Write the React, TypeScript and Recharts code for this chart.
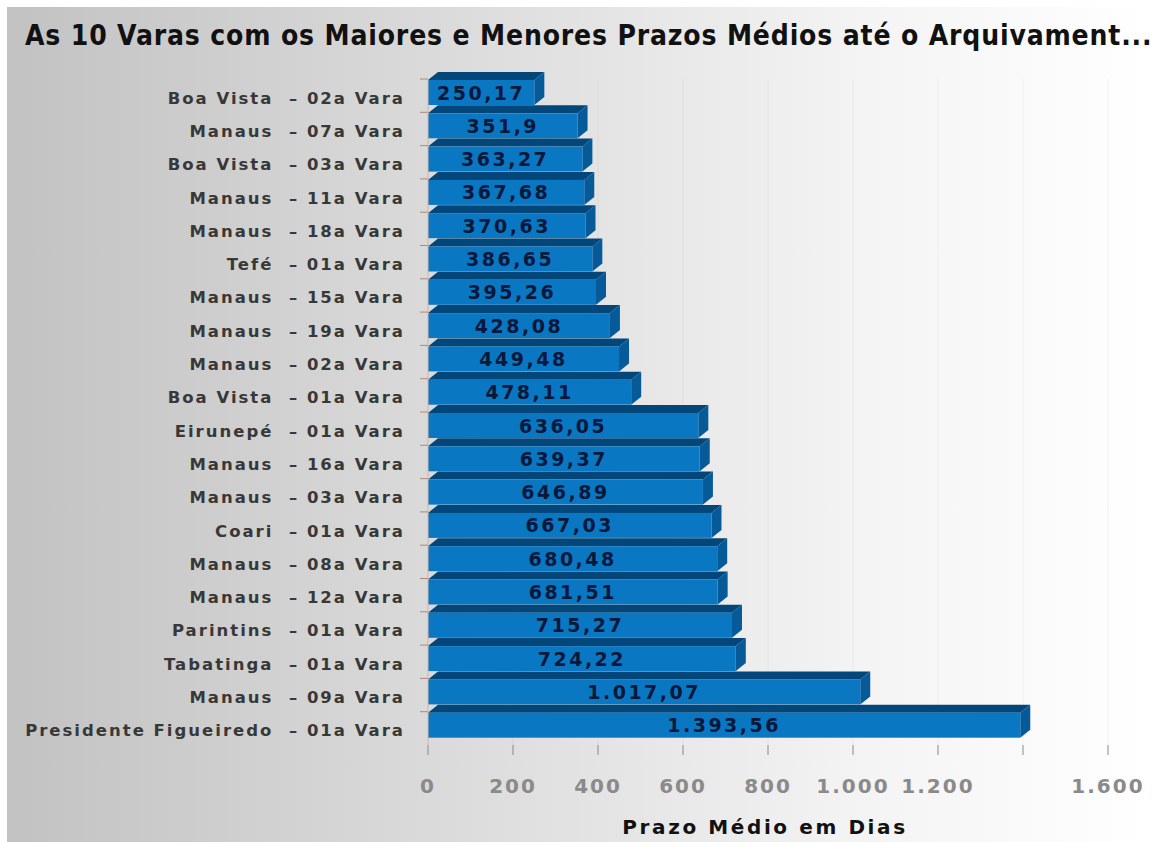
import React from "react";
import {
  BarChart,
  Bar,
  XAxis,
  YAxis,
  CartesianGrid,
  LabelList,
} from "recharts";

// Varas (top to bottom) and their average time until archiving, in days
const varas = [
  "Boa Vista  – 02a Vara",
  "Manaus  – 07a Vara",
  "Boa Vista  – 03a Vara",
  "Manaus  – 11a Vara",
  "Manaus  – 18a Vara",
  "Tefé  – 01a Vara",
  "Manaus  – 15a Vara",
  "Manaus  – 19a Vara",
  "Manaus  – 02a Vara",
  "Boa Vista  – 01a Vara",
  "Eirunepé  – 01a Vara",
  "Manaus  – 16a Vara",
  "Manaus  – 03a Vara",
  "Coari  – 01a Vara",
  "Manaus  – 08a Vara",
  "Manaus  – 12a Vara",
  "Parintins  – 01a Vara",
  "Tabatinga  – 01a Vara",
  "Manaus  – 09a Vara",
  "Presidente Figueiredo  – 01a Vara",
];

const prazos = [
  250.17, 351.9, 363.27, 367.68, 370.63, 386.65, 395.26, 428.08, 449.48,
  478.11, 636.05, 639.37, 646.89, 667.03, 680.48, 681.51, 715.27, 724.22,
  1017.07, 1393.56,
];

const xTicks = [0, 200, 400, 600, 800, 1000, 1200, 1400, 1600];
const xTickLabels = ["0", "200", "400", "600", "800", "1.000", "1.200", "", "1.600"];

const CHART_W = 1152;
const CHART_H = 835;
const MARGIN = { top: 72, right: 51, bottom: 37, left: 0 };
const Y_AXIS_W = 421;
const X_AXIS_H = 60;
const BAND = (CHART_H - MARGIN.top - MARGIN.bottom - X_AXIS_H) / varas.length;

const DX = 10; // 3d depth
const DY = 8;
const FRONT_H = 25;

const formatBR = (v: number) => {
  const [i, d] = v.toString().split(".");
  const int = i.replace(/\B(?=(\d{3})+(?!\d))/g, ".");
  return d ? `${int},${d}` : int;
};

const Bar3D = (props: any) => {
  const { x, y, width } = props;
  const top = y + 1;
  const bottom = top + FRONT_H;
  const right = x + width;
  return (
    <g>
      <polygon
        points={`${x},${top} ${x + DX},${top - DY} ${right + DX},${top - DY} ${right},${top}`}
        fill="#03467a"
      />
      <polygon
        points={`${right},${top} ${right + DX},${top - DY} ${right + DX},${bottom - DY} ${right},${bottom}`}
        fill="#065a98"
      />
      <rect x={x} y={top} width={width} height={FRONT_H} fill="#0a77c2" />
    </g>
  );
};

const ValueLabel = (props: any) => {
  const { x, y, width, value } = props;
  return (
    <text
      x={x + width / 2}
      y={y + 1 + FRONT_H / 2 + 7}
      textAnchor="middle"
      fill="#08183a"
      fontFamily="DejaVu Sans"
      fontWeight="bold"
      fontSize={19}
      letterSpacing={2.5}
    >
      {formatBR(value)}
    </text>
  );
};

const YTick = (props: any) => {
  const { x, y, payload } = props;
  const boundary = y - BAND / 2;
  return (
    <g>
      <line x1={x} x2={x + 8} y1={boundary} y2={boundary} stroke="#b08878" />
      <text
        x={x - 15}
        y={y + 8}
        textAnchor="end"
        fill="#383838"
        fontFamily="DejaVu Sans"
        fontWeight="bold"
        fontSize={16.5}
        letterSpacing={2}
        style={{ whiteSpace: "pre" }}
      >
        {payload.value}
      </text>
    </g>
  );
};

const XTick = (props: any) => {
  const { x, y, payload } = props;
  const idx = xTicks.indexOf(payload.value);
  return (
    <text
      x={x}
      y={y + 36}
      textAnchor="middle"
      fill="#8a8a8a"
      fontFamily="DejaVu Sans"
      fontWeight="bold"
      fontSize={20}
      letterSpacing={2}
    >
      {xTickLabels[idx]}
    </text>
  );
};

const App: React.FC = () => {
  const data = varas.map((name, i) => ({ name, prazo: prazos[i] }));

  return (
    <div
      style={{
        position: "absolute",
        left: 7,
        top: 7,
        width: CHART_W,
        height: CHART_H,
        background: "linear-gradient(to right, #c2c2c2 0%, #dcdcdc 40%, #f4f4f4 75%, #ffffff 100%)",
      }}
    >
      <div
        style={{
          position: "absolute",
          left: 18,
          top: 12,
          fontFamily: "DejaVu Sans Condensed",
          fontWeight: "bold",
          fontSize: 28,
          letterSpacing: 0.84,
          color: "#111",
          whiteSpace: "nowrap",
        }}
      >
        As 10 Varas com os Maiores e Menores Prazos Médios até o Arquivament...
      </div>
      <BarChart
        width={CHART_W}
        height={CHART_H}
        data={data}
        layout="vertical"
        margin={MARGIN}
        barCategoryGap={0}
      >
        <CartesianGrid horizontal={false} stroke="rgba(0,0,0,0.04)" />
        <XAxis
          type="number"
          domain={[0, 1600]}
          ticks={xTicks}
          height={X_AXIS_H}
          axisLine={false}
          tickSize={10}
          tickLine={{ stroke: "#8a8a8a" }}
          tick={<XTick />}
        />
        <YAxis
          type="category"
          dataKey="name"
          width={Y_AXIS_W}
          axisLine={{ stroke: "#dcb8a8" }}
          tickLine={false}
          tick={<YTick />}
          interval={0}
        />
        <Bar dataKey="prazo" shape={<Bar3D />} isAnimationActive={false}>
          <LabelList dataKey="prazo" content={<ValueLabel />} />
        </Bar>
      </BarChart>
      <div
        style={{
          position: "absolute",
          left: 758,
          top: 808,
          transform: "translateX(-50%)",
          fontFamily: "DejaVu Sans",
          fontWeight: "bold",
          fontSize: 20,
          letterSpacing: 2.6,
          color: "#111",
          whiteSpace: "nowrap",
        }}
      >
        Prazo Médio em Dias
      </div>
    </div>
  );
};

export default App;
